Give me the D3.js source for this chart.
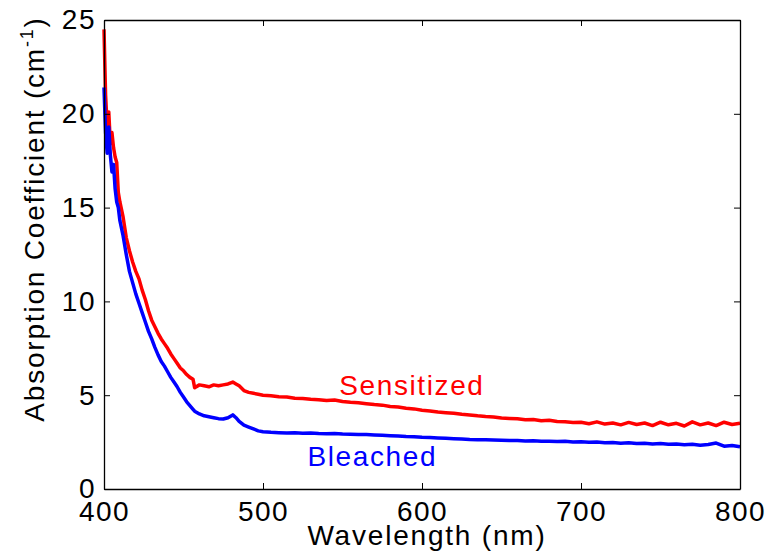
<!DOCTYPE html>
<html>
<head>
<meta charset="utf-8">
<script src="https://cdn.jsdelivr.net/npm/d3@7"></script>
<style>
  body { margin: 0; background: #fff; }
  text { font-family: "Liberation Sans", Arial, sans-serif; }
</style>
</head>
<body>
<div id="chart"></div>
<script>
// wavelength in nm, shared by both spectra
const wavelength = [400,401,402,403,404,405,406,407,408,409,410,
  412,414,416,418,420,422,424,426,428,430,432,434,436,438,440,442,444,446,448,450,452,454,456,
  457,460,463,466,469,472,475,478,481,483,485,488,491,494,497,500,
  505,510,515,520,525,530,535,540,545,550,555,560,565,570,575,580,585,590,595,600,
  605,610,615,620,625,630,635,640,645,650,655,660,665,670,675,680,685,690,695,700,
  705,710,715,720,725,730,735,740,745,750,755,760,765,770,775,780,785,790,795,800]

// absorption coefficient (cm^-1)
const sensitized = [24.5,21.0,19.3,20.1,18.4,19.0,18.2,17.7,17.4,15.8,15.3,
  14.5,13.4,12.7,12.1,11.6,11.2,10.6,10.1,9.5,9.0,8.65,8.3,8.0,7.75,7.5,7.2,6.95,6.7,6.45,6.3,6.1,5.95,5.85,
  5.4,5.55,5.5,5.45,5.55,5.5,5.55,5.6,5.7,5.6,5.5,5.25,5.15,5.1,5.05,5.0,
  4.97,4.92,4.9,4.84,4.82,4.78,4.76,4.72,4.74,4.66,4.62,4.6,4.55,4.5,4.47,4.4,4.37,4.3,4.27,4.2,
  4.16,4.1,4.07,4.04,3.98,3.95,3.9,3.86,3.84,3.78,3.76,3.74,3.69,3.7,3.64,3.66,3.6,3.58,3.55,3.56,
  3.48,3.58,3.46,3.52,3.42,3.55,3.44,3.52,3.38,3.56,3.42,3.5,3.36,3.58,3.42,3.52,3.38,3.56,3.44,3.5]

const bleached = [21.4,19.0,17.9,19.3,17.8,16.9,17.3,16.0,15.3,15.0,14.3,
  13.5,12.5,11.6,11.0,10.4,9.9,9.4,8.9,8.4,8.0,7.55,7.15,6.8,6.55,6.25,5.95,5.7,5.45,5.15,4.9,4.65,4.45,4.25,
  4.15,4.0,3.9,3.85,3.8,3.75,3.73,3.8,3.95,3.8,3.6,3.4,3.3,3.2,3.1,3.05,
  3.02,3.0,2.98,3.0,2.97,2.98,2.96,2.95,2.96,2.93,2.92,2.9,2.9,2.88,2.86,2.84,2.82,2.8,2.79,2.76,
  2.74,2.72,2.7,2.68,2.66,2.64,2.63,2.62,2.61,2.6,2.58,2.59,2.56,2.57,2.54,2.55,2.53,2.54,2.5,2.52,
  2.49,2.5,2.47,2.48,2.44,2.46,2.42,2.44,2.4,2.42,2.38,2.4,2.36,2.38,2.33,2.37,2.45,2.28,2.32,2.25]

const xTicks = [400, 500, 600, 700, 800]
const yTicks = [0, 5, 10, 15, 20, 25]

const width = 769, height = 552
const margin = {top: 20, right: 29, bottom: 63, left: 104}
const w = width - margin.left - margin.right
const h = height - margin.top - margin.bottom

const svg = d3.select('#chart')
  .append('svg')
  .attr('width', width)
  .attr('height', height)

const g = svg.append('g')
  .attr('transform', `translate(${margin.left},${margin.top})`)

const x = d3.scaleLinear().domain([400, 800]).range([0, w])
const y = d3.scaleLinear().domain([0, 25]).range([h, 0])

// curves first, axes box drawn on top
const line = d3.line()
  .x(d => x(d[0]))
  .y(d => y(d[1]))

const series = [
  {name: 'Sensitized', values: sensitized, color: '#ff0000', lx: 548, ly: 5.0},
  {name: 'Bleached', values: bleached, color: '#0000ff', lx: 528, ly: 1.25}
]

series.forEach(s => {
  g.append('path')
    .datum(wavelength.map((wl, i) => [wl, s.values[i]]))
    .attr('fill', 'none')
    .attr('stroke', s.color)
    .attr('stroke-width', 3.5)
    .attr('stroke-linejoin', 'round')
    .attr('d', line)
})

function styleAxis(sel) {
  sel.select('.domain').attr('stroke', '#000').attr('stroke-width', 1.3)
  sel.selectAll('.tick line').attr('stroke', '#000')
  sel.selectAll('.tick text')
    .attr('fill', '#000')
    .style('font-size', '28px')
    .style('letter-spacing', '1.5px')
}

g.append('g')
  .attr('transform', `translate(0,${h})`)
  .call(d3.axisBottom(x).tickValues(xTicks).tickSizeInner(-6).tickSizeOuter(0).tickPadding(12))
  .call(styleAxis)

g.append('g')
  .call(d3.axisTop(x).tickValues(xTicks).tickSizeInner(-6).tickSizeOuter(0).tickFormat(''))
  .call(styleAxis)

g.append('g')
  .call(d3.axisLeft(y).tickValues(yTicks).tickSizeInner(-6).tickSizeOuter(0).tickPadding(8))
  .call(styleAxis)

g.append('g')
  .attr('transform', `translate(${w},0)`)
  .call(d3.axisRight(y).tickValues(yTicks).tickSizeInner(-6).tickSizeOuter(0).tickFormat(''))
  .call(styleAxis)

// series labels
series.forEach(s => {
  g.append('text')
    .attr('x', x(s.lx))
    .attr('y', y(s.ly))
    .attr('fill', s.color)
    .style('font-size', '28px')
    .style('letter-spacing', '1.6px')
    .text(s.name)
})

// axis titles
svg.append('text')
  .attr('x', 427)
  .attr('y', 545)
  .attr('text-anchor', 'middle')
  .style('font-size', '28px')
  .style('letter-spacing', '1.8px')
  .text('Wavelength (nm)')

const yl = svg.append('text')
  .attr('transform', 'translate(44,219) rotate(-90)')
  .attr('text-anchor', 'middle')
  .style('font-size', '28px')
  .style('letter-spacing', '1.8px')
yl.append('tspan').text('Absorption Coefficient (cm')
yl.append('tspan').attr('dy', -11).style('font-size', '18px').text('-1')
yl.append('tspan').attr('dy', 11).text(')')
</script>
</body>
</html>
